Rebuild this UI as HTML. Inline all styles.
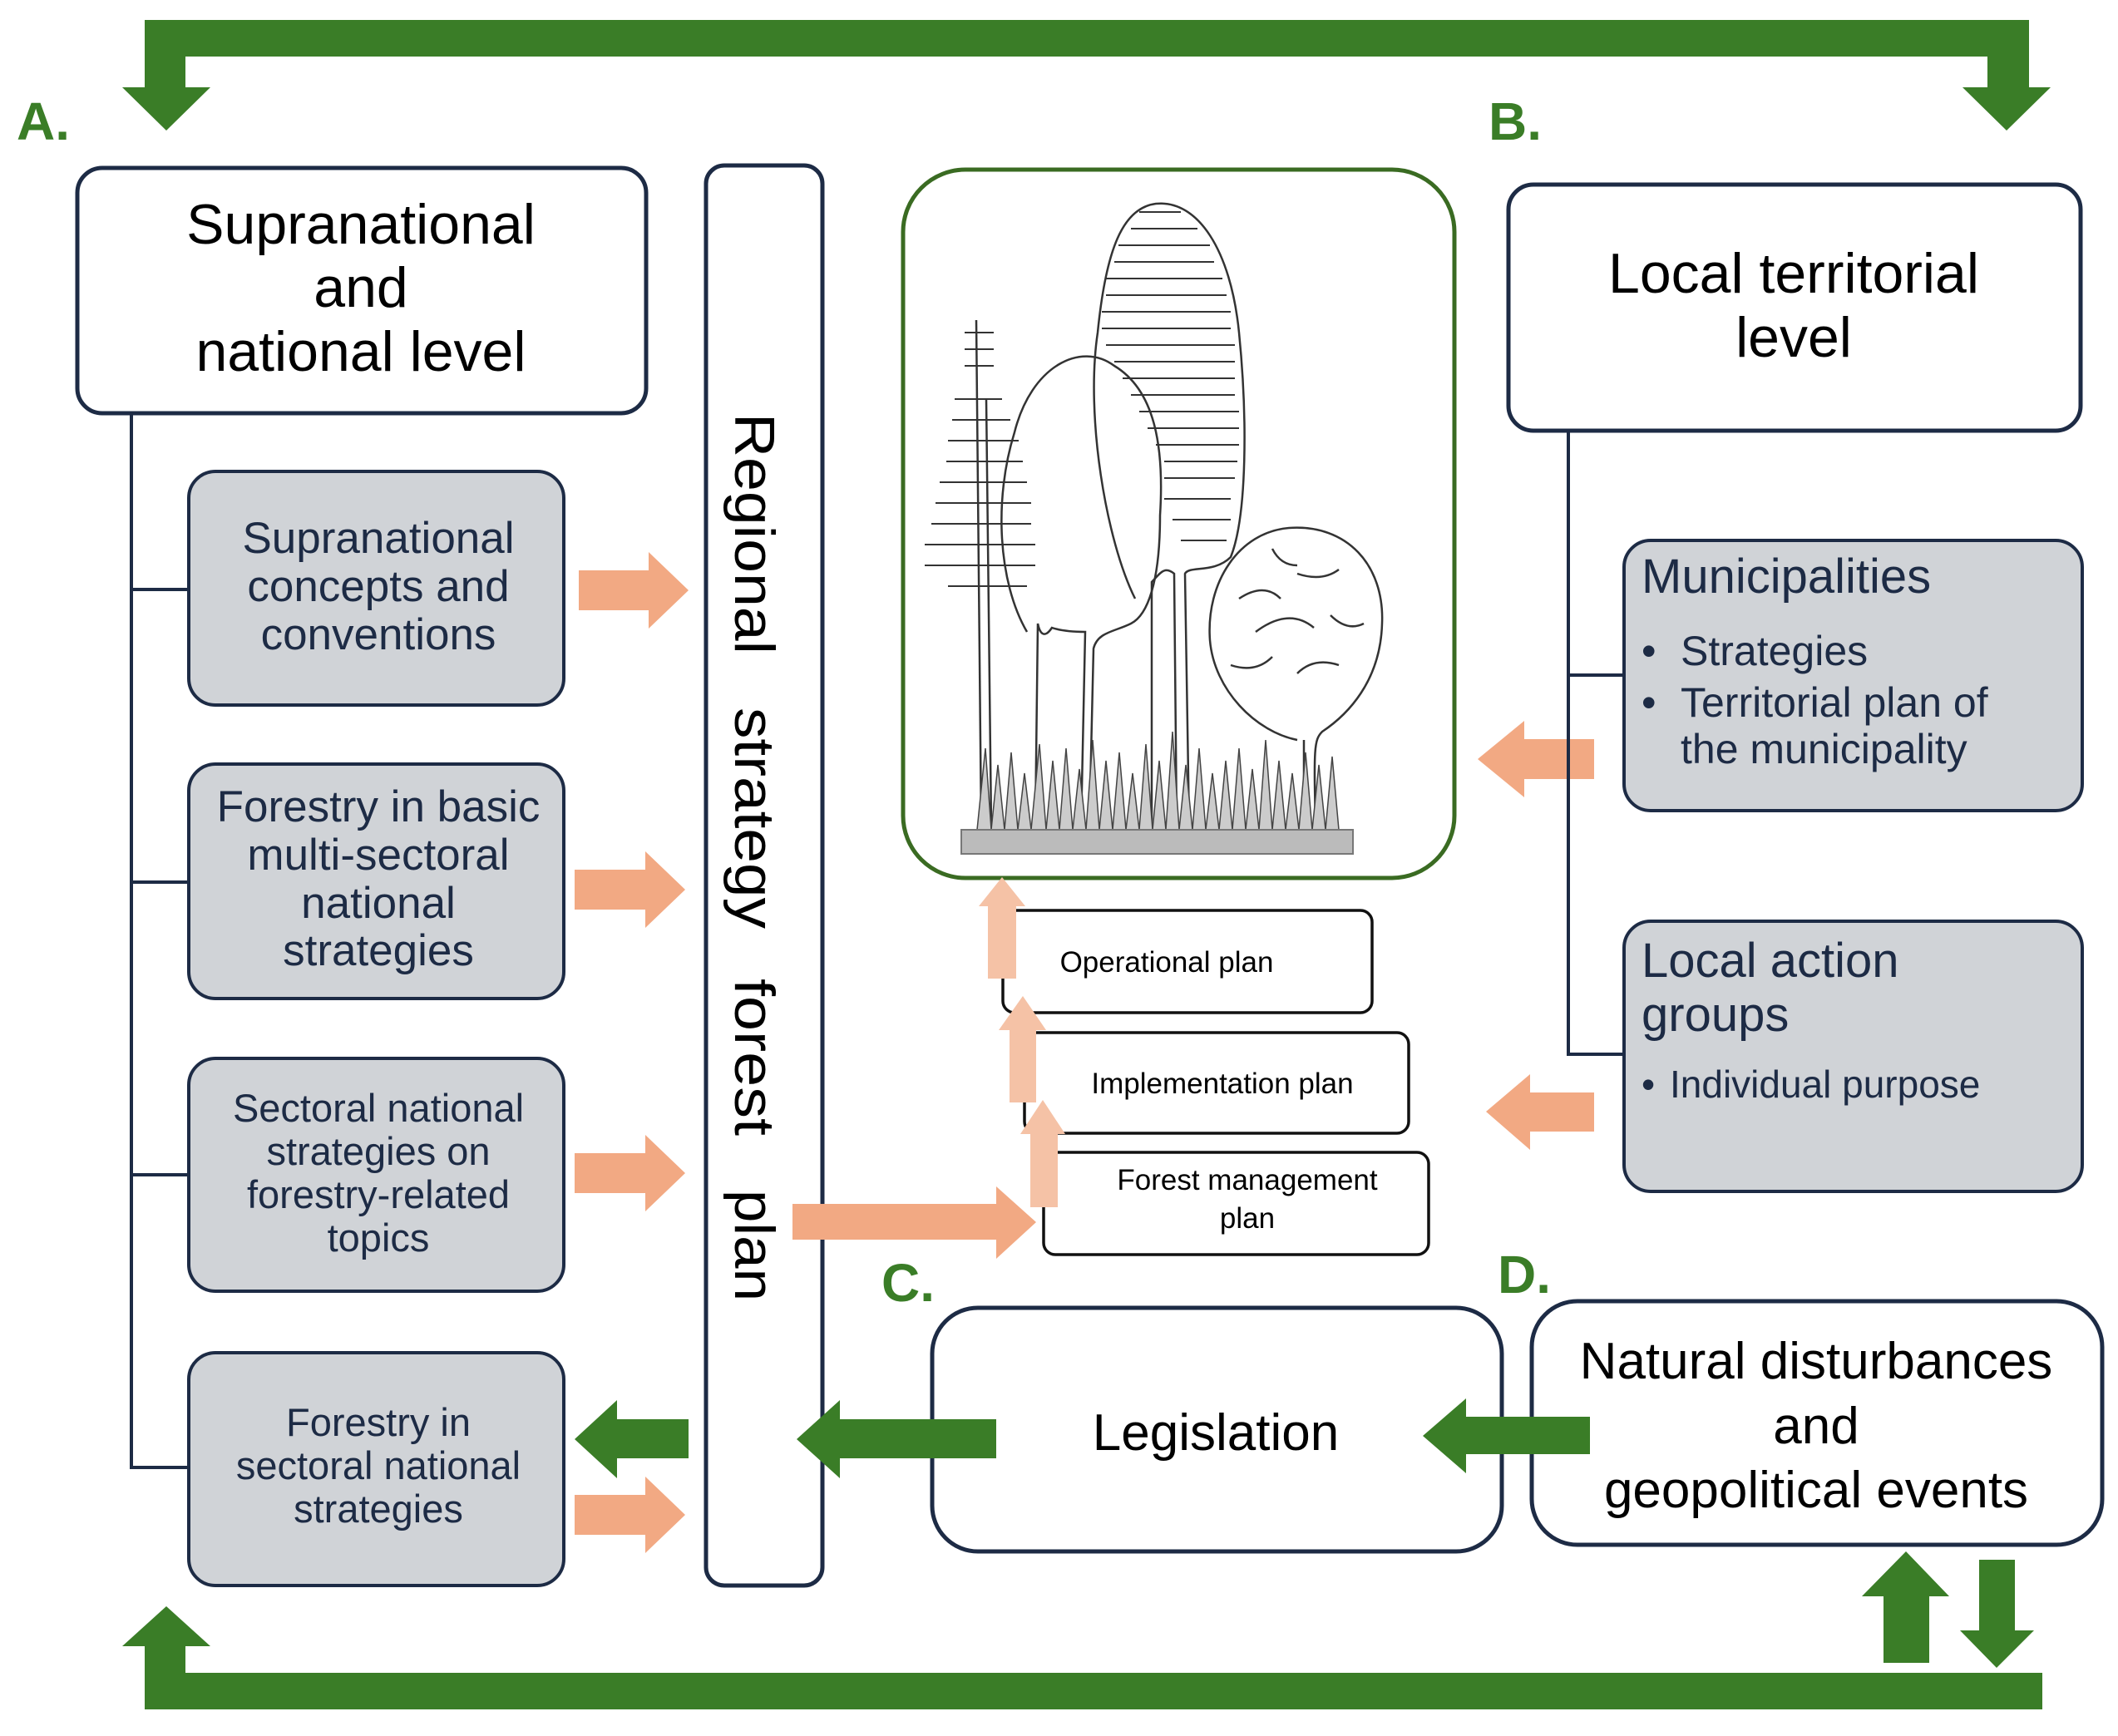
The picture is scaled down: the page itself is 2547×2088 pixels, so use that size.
<!DOCTYPE html>
<html><head><meta charset="utf-8"><style>html,body{margin:0;padding:0;background:#fff}svg{display:block}</style></head>
<body>
<svg width="2547" height="2088" viewBox="0 0 2547 2088" xmlns="http://www.w3.org/2000/svg" font-family="Liberation Sans, Arial, sans-serif">
<rect width="2547" height="2088" fill="#fff"/>
<g fill="#3a7d27">
<rect x="174" y="24" width="2266" height="44"/>
<rect x="174" y="24" width="49" height="84"/>
<polygon points="147,105 253,105 200,157"/>
<rect x="2390" y="24" width="50" height="84"/>
<polygon points="2360,105 2466,105 2413,157"/>
<rect x="174" y="2012" width="2282" height="44"/>
<rect x="174" y="1975" width="49" height="60"/>
<polygon points="147,1980 253,1980 200,1932"/>
<rect x="2265" y="1915" width="55" height="85"/>
<polygon points="2239,1920 2344,1920 2292,1866"/>
<rect x="2380" y="1876" width="43" height="90"/>
<polygon points="2357,1961 2446,1961 2401,2006"/>
<text x="20" y="168" font-size="64" font-weight="bold">A.</text>
<text x="1790" y="168" font-size="64" font-weight="bold">B.</text>
<text x="1060" y="1565" font-size="64" font-weight="bold">C.</text>
<text x="1801" y="1555" font-size="64" font-weight="bold">D.</text>
</g>

<rect x="93" y="202" width="684" height="295" rx="30" fill="#fff" stroke="#1d2b45" stroke-width="5"/>
<g font-size="68" text-anchor="middle" fill="#000">
<text x="434" y="293">Supranational</text>
<text x="434" y="369">and</text>
<text x="434" y="446">national level</text>
</g>
<g stroke="#1d2b45" stroke-width="4" fill="none">
<line x1="158" y1="497" x2="158" y2="1767"/>
<line x1="158" y1="709" x2="227" y2="709"/>
<line x1="158" y1="1061" x2="227" y2="1061"/>
<line x1="158" y1="1413" x2="227" y2="1413"/>
<line x1="158" y1="1765" x2="227" y2="1765"/>
</g>
<g fill="#d0d3d7" stroke="#1d2b45" stroke-width="4">
<rect x="227" y="567" width="451" height="281" rx="32"/>
<rect x="227" y="919" width="451" height="282" rx="32"/>
<rect x="227" y="1273" width="451" height="280" rx="32"/>
<rect x="227" y="1627" width="451" height="280" rx="32"/>
</g>
<g fill="#1d2b45" text-anchor="middle">
<g font-size="53"><text x="455" y="665">Supranational</text><text x="455" y="723">concepts and</text><text x="455" y="781">conventions</text>
<text x="455" y="988">Forestry in basic</text><text x="455" y="1046">multi-sectoral</text><text x="455" y="1104">national</text><text x="455" y="1161">strategies</text></g>
<g font-size="47"><text x="455" y="1349">Sectoral national</text><text x="455" y="1401">strategies on</text><text x="455" y="1453">forestry-related</text><text x="455" y="1505">topics</text>
<text x="455" y="1727">Forestry in</text><text x="455" y="1779">sectoral national</text><text x="455" y="1831">strategies</text></g>
</g>
<g fill="#f2a983">
<polygon points="696,686 780,686 780,664 828,710 780,756 780,734 696,734"/>
<polygon points="691,1046 776,1046 776,1024 824,1070 776,1116 776,1094 691,1094"/>
<polygon points="691,1387 776,1387 776,1365 824,1411 776,1457 776,1435 691,1435"/>
<polygon points="691,1798 776,1798 776,1776 824,1822 776,1868 776,1846 691,1846"/>
<polygon points="1917,889 1833,889 1833,867 1777,913 1833,959 1833,937 1917,937"/>
<polygon points="1917,1314 1840,1314 1840,1292 1787,1337 1840,1383 1840,1361 1917,1361"/>
</g>
<polygon points="828,1707 742,1707 742,1684 691,1731 742,1778 742,1754 828,1754" fill="#3a7d27"/>

<rect x="849" y="199" width="140" height="1708" rx="22" fill="#fff" stroke="#1d2b45" stroke-width="5"/>
<g font-size="68" fill="#000">
<text transform="translate(884,497) rotate(90)" textLength="290" lengthAdjust="spacingAndGlyphs">Regional</text>
<text transform="translate(884,851) rotate(90)" textLength="266" lengthAdjust="spacingAndGlyphs">strategy</text>
<text transform="translate(884,1177) rotate(90)" textLength="189" lengthAdjust="spacingAndGlyphs">forest</text>
<text transform="translate(884,1431) rotate(90)" textLength="134" lengthAdjust="spacingAndGlyphs">plan</text>
</g>

<rect x="1086" y="204" width="663" height="852" rx="75" fill="#fff" stroke="#3a6b22" stroke-width="5"/>
<g stroke="#333" stroke-width="2.5" fill="none">
<line x1="1174" y1="385" x2="1180" y2="995"/>
<line x1="1186" y1="480" x2="1192" y2="995"/>
<g stroke-width="2">
<line x1="1160" y1="400" x2="1195" y2="400"/><line x1="1160" y1="420" x2="1195" y2="420"/><line x1="1160" y1="440" x2="1195" y2="440"/>
<line x1="1148" y1="480" x2="1205" y2="480"/><line x1="1145" y1="505" x2="1215" y2="505"/><line x1="1140" y1="530" x2="1225" y2="530"/>
<line x1="1138" y1="555" x2="1230" y2="555"/><line x1="1130" y1="580" x2="1235" y2="580"/><line x1="1125" y1="605" x2="1240" y2="605"/>
<line x1="1120" y1="630" x2="1240" y2="630"/><line x1="1112" y1="655" x2="1245" y2="655"/><line x1="1112" y1="680" x2="1245" y2="680"/>
<line x1="1140" y1="705" x2="1235" y2="705"/>
</g>
<path d="M1235,760 C1200,700 1195,600 1220,520 C1240,440 1300,410 1340,440 C1390,470 1400,540 1395,620 C1395,700 1380,740 1360,750 C1340,760 1320,760 1315,780 L1310,995 M1300,995 L1305,760 C1300,760 1280,760 1265,755 C1255,770 1250,760 1248,750 L1245,995"/>
<path d="M1365,720 C1330,650 1305,500 1320,400 C1330,300 1350,250 1390,245 C1440,240 1480,300 1490,400 C1500,500 1500,620 1480,670 C1460,690 1430,680 1425,690 L1430,995 M1415,995 L1412,690 C1400,680 1395,690 1385,700 L1385,995"/>
<g stroke-width="2">
<line x1="1370" y1="255" x2="1420" y2="255"/><line x1="1360" y1="275" x2="1440" y2="275"/><line x1="1345" y1="295" x2="1455" y2="295"/>
<line x1="1340" y1="315" x2="1460" y2="315"/><line x1="1330" y1="335" x2="1470" y2="335"/><line x1="1330" y1="355" x2="1475" y2="355"/>
<line x1="1325" y1="375" x2="1480" y2="375"/><line x1="1325" y1="395" x2="1480" y2="395"/><line x1="1330" y1="415" x2="1485" y2="415"/>
<line x1="1340" y1="435" x2="1485" y2="435"/><line x1="1350" y1="455" x2="1485" y2="455"/><line x1="1360" y1="475" x2="1485" y2="475"/>
<line x1="1370" y1="495" x2="1490" y2="495"/><line x1="1380" y1="515" x2="1490" y2="515"/><line x1="1390" y1="535" x2="1490" y2="535"/>
<line x1="1400" y1="555" x2="1488" y2="555"/><line x1="1400" y1="575" x2="1485" y2="575"/><line x1="1400" y1="600" x2="1480" y2="600"/>
<line x1="1410" y1="625" x2="1480" y2="625"/><line x1="1420" y1="650" x2="1475" y2="650"/>
</g>
<path d="M1560,890 C1510,880 1460,830 1455,770 C1450,700 1490,640 1550,635 C1620,630 1665,680 1662,750 C1660,820 1620,860 1590,880 C1580,890 1580,900 1582,995 M1568,995 L1568,890 Z"/>
<path d="M1490,720 q30,-20 50,0 M1510,760 q40,-30 70,-5 M1560,690 q30,10 50,-5 M1600,740 q20,20 40,10 M1480,800 q30,10 50,-10 M1560,810 q20,-20 50,-10 M1530,660 q10,20 30,20"/>
</g>
<g fill="#ccc" stroke="#444" stroke-width="1.5">
<path d="M1175,998 L1185,900 L1192,998 L1200,920 L1208,998 L1216,905 L1224,998 L1232,930 L1240,998 L1250,895 L1258,998 L1266,915 L1274,998 L1282,900 L1290,998 L1298,925 L1306,998 L1314,890 L1322,998 L1330,915 L1338,998 L1346,905 L1354,998 L1362,930 L1370,998 L1378,895 L1386,998 L1394,915 L1402,998 L1410,880 L1418,998 L1426,920 L1434,998 L1442,900 L1450,998 L1458,930 L1466,998 L1474,915 L1482,998 L1490,900 L1498,998 L1506,925 L1514,998 L1522,890 L1530,998 L1538,915 L1546,998 L1554,930 L1562,998 L1570,905 L1578,998 L1586,920 L1594,998 L1602,910 L1610,998 Z"/>
</g>
<rect x="1156" y="998" width="471" height="29" fill="#bbb" stroke="#777" stroke-width="2"/>

<g fill="#fff" stroke="#111" stroke-width="3.5">
<rect x="1206" y="1095" width="444" height="123" rx="14"/>
<rect x="1232" y="1242" width="462" height="121" rx="14"/>
<rect x="1255" y="1386" width="463" height="123" rx="14"/>
</g>
<g font-size="35" fill="#000" text-anchor="middle">
<text x="1403" y="1169">Operational plan</text>
<text x="1470" y="1315">Implementation plan</text>
<text x="1500" y="1431">Forest management</text>
<text x="1500" y="1477">plan</text>
</g>
<polygon points="953,1448 1198,1448 1198,1427 1246,1470 1198,1514 1198,1491 953,1491" fill="#f2a983"/>
<g fill="#f5c2a6">
<polygon points="1188,1177 1222,1177 1222,1090 1233,1090 1205,1055 1177,1090 1188,1090"/>
<polygon points="1214,1326 1246,1326 1246,1239 1258,1239 1230,1198 1201,1239 1214,1239"/>
<polygon points="1239,1452 1272,1452 1272,1364 1281,1364 1254,1323 1227,1364 1239,1364"/>
</g>

<rect x="1814" y="222" width="688" height="296" rx="30" fill="#fff" stroke="#1d2b45" stroke-width="5"/>
<g font-size="68" text-anchor="middle" fill="#000"><text x="2157" y="352">Local territorial</text><text x="2157" y="429">level</text></g>
<g stroke="#1d2b45" stroke-width="4" fill="none">
<line x1="1886" y1="518" x2="1886" y2="1270"/>
<line x1="1886" y1="812" x2="1953" y2="812"/>
<line x1="1886" y1="1268" x2="1953" y2="1268"/>
</g>
<g fill="#d0d3d7" stroke="#1d2b45" stroke-width="4">
<rect x="1953" y="650" width="551" height="325" rx="32"/>
<rect x="1953" y="1108" width="551" height="325" rx="32"/>
</g>
<g fill="#1d2b45">
<text x="1974" y="713" font-size="58">Municipalities</text>
<g font-size="50"><text x="1974" y="800">•</text><text x="2021" y="800">Strategies</text>
<text x="1974" y="862">•</text><text x="2021" y="862">Territorial plan of</text>
<text x="2021" y="918">the municipality</text></g>
<text x="1974" y="1175" font-size="58">Local action</text>
<text x="1974" y="1240" font-size="58">groups</text>
<g font-size="46"><text x="1974" y="1320">•</text><text x="2008" y="1320">Individual purpose</text></g>
</g>

<rect x="1121" y="1573" width="685" height="293" rx="55" fill="#fff" stroke="#1d2b45" stroke-width="5"/>
<rect x="1842" y="1565" width="686" height="293" rx="55" fill="#fff" stroke="#1d2b45" stroke-width="5"/>
<polygon points="1198,1707 1010,1707 1010,1684 958,1731 1010,1778 1010,1754 1198,1754" fill="#3a7d27"/>
<polygon points="1912,1704 1763,1704 1763,1682 1711,1727 1763,1772 1763,1749 1912,1749" fill="#3a7d27"/>
<g font-size="62" text-anchor="middle" fill="#000">
<text x="1462" y="1744">Legislation</text>
<text x="2184" y="1658">Natural disturbances</text>
<text x="2184" y="1736">and</text>
<text x="2184" y="1813">geopolitical events</text>
</g>
</svg>
</body></html>
